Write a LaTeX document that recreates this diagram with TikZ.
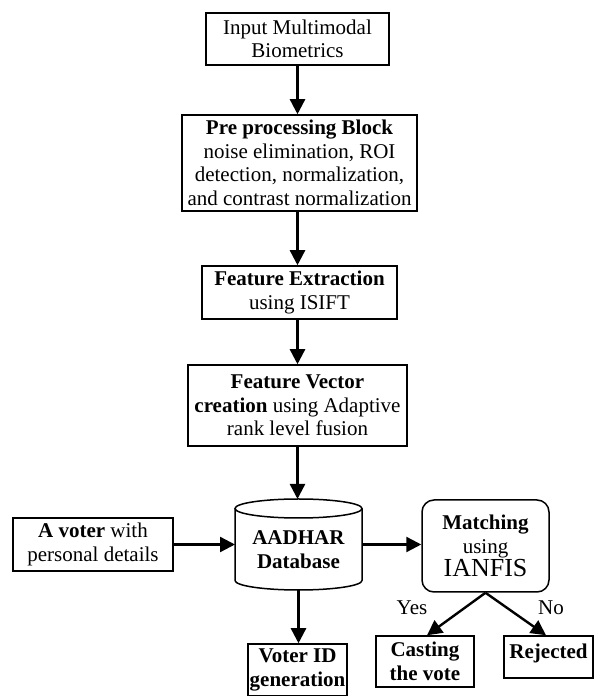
\documentclass[tikz,border=0pt]{standalone}
\usepackage{fontspec}
\setmainfont{Liberation Serif}
\usetikzlibrary{arrows.meta}
\begin{document}
\begin{tikzpicture}[x=1pt,y=1pt,
  txt/.style={font=\fontsize{21}{23.5}\selectfont},
  box/.style={txt, draw, line width=1.5pt, align=center, inner sep=1.5pt},
  arr/.style={line width=2.4pt, -{Triangle[length=15pt,width=15pt]}},
  lbl/.style={font=\fontsize{21}{23}\selectfont, inner sep=0pt}]
\useasboundingbox (0,0) rectangle (594,696);
% main column
\node[box, minimum width=183pt, minimum height=52pt] (inp) at (297.5,657) {Input Multimodal\\Biometrics};
\node[box, minimum width=235pt, minimum height=96pt] (pre) at (299.5,533) {\textbf{Pre processing Block}\\noise elimination, ROI\\detection, normalization,\\and contrast normalization};
\node[box, minimum width=195pt, minimum height=53pt] (fe) at (299.5,403.5) {\textbf{Feature Extraction}\\using ISIFT};
\node[box, minimum width=219pt, minimum height=81pt] (fv) at (297.5,290.5) {\textbf{Feature Vector}\\\textbf{creation} using Adaptive\\rank level fusion};
% database cylinder
\node[txt, align=center, inner sep=0pt, minimum width=127pt] (db) at (298.5,146.5) {\textbf{AADHAR}\\\textbf{Database}};
\coordinate (dbtop) at (298.5,197);
\coordinate (dbbot) at (298.5,106);
\draw[line width=1.5pt] (298.5,187.5) ellipse [x radius=63.5, y radius=9.5];
\draw[line width=1.5pt] (235,187.5) -- (235,115.5) arc[start angle=180, end angle=360, x radius=63.5, y radius=9.5] -- (362,187.5);
% side and bottom boxes
\node[box, minimum width=160pt, minimum height=53pt] (voter) at (93,151.5) {\textbf{A voter} with\\personal details};
\node[box, rounded corners=12pt, minimum width=127pt, minimum height=92pt] (m) at (485.5,150) {\textbf{Matching}\\using\\{\fontsize{26}{28}\selectfont IANFIS}};
\node[box, minimum width=99pt, minimum height=52pt] (vid) at (297.5,26) {\textbf{Voter ID}\\\textbf{generation}};
\node[box, minimum width=98pt, minimum height=51pt] (cast) at (425,34.5) {\textbf{Casting}\\\textbf{the vote}};
\node[txt, draw, line width=1.5pt, inner sep=0pt, text height=23pt, text depth=19pt, minimum width=89pt] (rej) at (548.5,39) {\textbf{Rejected}};
% connectors
\draw[arr] (inp.south) -- (inp.south |- pre.north);
\draw[arr] (inp.south |- pre.south) -- (inp.south |- fe.north);
\draw[arr] (inp.south |- fe.south) -- (inp.south |- fv.north);
\draw[arr] (inp.south |- fv.south) -- (inp.south |- dbtop);
\draw[arr] (dbbot) -- (dbbot |- vid.north);
\draw[arr] (voter.east) -- (voter.east -| 235,0);
\draw[arr] (voter.east -| 362,0) -- (voter.east -| m.west);
\draw[arr] (m.south) -- ([xshift=2pt]cast.north);
\draw[arr] (m.south) -- ([xshift=-2.5pt]rej.north);
\node[lbl] (yes) at (412,88) {Yes};
\node[lbl] (no) at (551,88) {No};
\end{tikzpicture}
\end{document}
